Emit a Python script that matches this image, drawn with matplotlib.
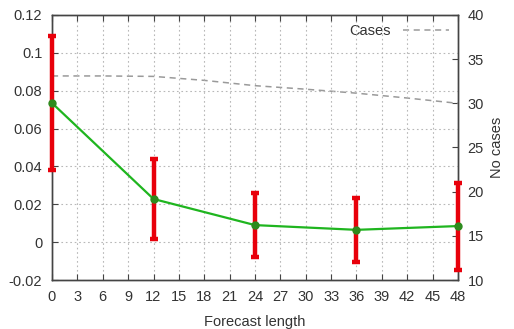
import matplotlib
matplotlib.use("Agg")
import matplotlib.pyplot as plt

plt.rcParams['font.family'] = ['Liberation Sans', 'DejaVu Sans']

# forecast error statistics by forecast length (hours)
lead_hours = [0, 12, 24, 36, 48]
mean_error = [0.0735, 0.0228, 0.0090, 0.0065, 0.0085]
err_low = [0.038, 0.0015, -0.008, -0.0105, -0.0145]
err_high = [0.109, 0.044, 0.026, 0.0235, 0.0315]

# number of cases by forecast length
case_hours = [0, 6, 12, 18, 24, 30, 36, 42, 48]
case_counts = [33.1, 33.1, 33.05, 32.6, 32.0, 31.6, 31.15, 30.6, 30.0]

x_ticks = list(range(0, 49, 3))
y_ticks = [-0.02, 0, 0.02, 0.04, 0.06, 0.08, 0.1, 0.12]
y2_ticks = [10, 15, 20, 25, 30, 35, 40]

fig = plt.figure(figsize=(5.14, 3.29), dpi=100)
ax = fig.add_axes([52 / 514, 1 - 280 / 329, (458 - 52) / 514, (280 - 15) / 329])
ax2 = ax.twinx()

axis_col = '#444444'
text_col = '#333333'

ax.set_xlim(0, 48)
ax.set_ylim(-0.02, 0.12)
ax.set_xticks(x_ticks)
ax.set_yticks(y_ticks)
ax.set_yticklabels(['-0.02', '0', '0.02', '0.04', '0.06', '0.08', '0.1', '0.12'])
ax.grid(True, color='#b8b8b8', linestyle=(0, (1.5, 2.5)), linewidth=0.8)
ax.tick_params(axis='both', direction='in', length=4, color=axis_col,
               labelcolor=text_col, labelsize=10.5, pad=7, top=True)
ax.set_xlabel('Forecast length', color=text_col, fontsize=10.5, labelpad=8)

ax2.set_ylim(10, 40)
ax2.set_yticks(y2_ticks)
ax2.tick_params(axis='y', direction='in', length=4, color=axis_col,
                labelcolor=text_col, labelsize=10.5, pad=7)
ax2.set_ylabel('No cases', color=text_col, fontsize=10.5, labelpad=4)

for a in (ax, ax2):
    for s in a.spines.values():
        s.set_color(axis_col)
        s.set_linewidth(1.0)

# cases line on the right axis
ax2.plot(case_hours, case_counts, color='#9a9a9a', linestyle=(0, (4, 3)),
         linewidth=1.1, label='Cases')
leg = ax2.legend(loc='upper right', frameon=False, fontsize=10.5,
                 handlelength=3.2, handletextpad=0.8, markerfirst=False,
                 borderaxespad=0.2)
for t in leg.get_texts():
    t.set_color(text_col)

# mean error with range bars
lower = [m - lo for m, lo in zip(mean_error, err_low)]
upper = [hi - m for m, hi in zip(mean_error, err_high)]
ax.errorbar(lead_hours, mean_error, yerr=[lower, upper], fmt='none',
            ecolor='#e8000b', elinewidth=3.2, capsize=3, capthick=3.2,
            zorder=3, clip_on=False)
ax.plot(lead_hours, mean_error, color='#1fb51f', linewidth=1.6, zorder=4,
        marker='o', markersize=5, markerfacecolor='#2e8b1e',
        markeredgecolor='#2e8b1e', clip_on=False)

ax.set_zorder(ax2.get_zorder() + 1)
ax.patch.set_visible(False)

fig.savefig('out.png', dpi=100)
